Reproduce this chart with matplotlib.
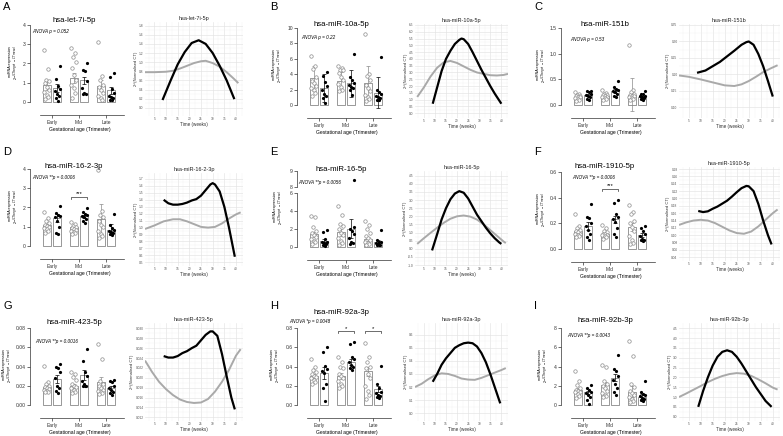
"""
miRNA expression by trimester (bar + dots) and modelled trajectory (line)
9 panels, A-I
"""

import numpy as np
import matplotlib
matplotlib.use('Agg')
import matplotlib.pyplot as plt

plt.rcParams['font.family'] = ['Liberation Sans', 'DejaVu Sans']

W, H = 783, 436
GROUPS = ['Early', 'Mid', 'Late']

# ============================================
# Data
# ============================================

# --- A: hsa-let-7i-5p ---
a_open = [[2.7, 1.7, 1.15, 1.07, 1.0, 0.8, 0.64, 0.5, 0.38, 0.26, 0.15],
          [2.83, 2.55, 2.33, 2.1, 1.76, 1.41, 1.16, 0.9, 0.72, 0.47, 0.2],
          [3.1, 1.33, 1.16, 0.9, 0.78, 0.64, 0.47, 0.33, 0.2, 0.12]]
a_fill = [[1.85, 1.2, 0.85, 0.67, 0.55, 0.41, 0.3, 0.19, 0.03],
          [2.0, 1.67, 1.59, 1.07, 0.72, 0.47, 0.43, 0.41],
          [1.53, 1.29, 0.67, 0.47, 0.29, 0.24, 0.19, 0.12, 0.09]]
a_bar_open, a_err_open = [0.86, 1.24, 0.84], [0.25, 0.25, 0.28]
a_bar_fill, a_err_fill = [0.72, 1.12, 0.6], [0.2, 0.2, 0.18]
a_bk_wk = [8.5, 12, 15, 18, 21, 24, 27, 30, 33, 36, 39.3]
a_bk = [0.17, 0.6, 0.95, 1.22, 1.42, 1.48, 1.4, 1.2, 0.92, 0.6, 0.19]
a_gr_wk = [1, 5, 10, 13, 16, 19, 22, 25, 27, 30, 33, 36, 39, 41]
a_gr = [0.78, 0.78, 0.79, 0.81, 0.86, 0.92, 0.98, 1.02, 1.03, 0.98, 0.9, 0.78, 0.64, 0.54]

# --- B: hsa-miR-10a-5p ---
b_open = [[6.3, 5.0, 4.7, 3.6, 3.1, 2.8, 2.5, 2.2, 1.9, 1.6, 1.2],
          [5.1, 4.8, 4.6, 4.5, 4.2, 3.6, 3.2, 2.7, 2.3, 2.0, 1.8],
          [9.2, 4.0, 3.8, 3.2, 2.6, 2.2, 1.8, 1.3, 1.0, 0.8, 0.5]]
b_fill = [[4.3, 3.8, 3.0, 2.5, 2.0, 1.4, 1.2, 0.9, 0.2],
          [6.6, 3.6, 3.3, 2.8, 2.6, 2.4, 2.2, 1.9, 1.3],
          [6.2, 1.9, 1.7, 1.4, 1.2, 1.0, 0.9, 0.7, 0.6]]
b_bar_open, b_err_open = [3.45, 3.15, 2.8], [1.6, 1.2, 2.2]
b_bar_fill, b_err_fill = [2.2, 2.8, 1.6], [1.8, 1.8, 2.0]
b_bk_wk = [9, 11, 13, 15, 17, 19, 21, 22, 23, 25, 27, 29, 31, 33, 35, 37, 39, 40]
b_bk = [0.7, 1.9, 3.1, 4.0, 4.6, 5.1, 5.4, 5.5, 5.45, 5.1, 4.5, 3.85, 3.2, 2.6, 2.0, 1.45, 0.95, 0.7]
b_gr_wk = [2, 5, 8, 11, 14, 17, 20, 23, 26, 29, 32, 35, 38, 41, 43]
b_gr = [1.2, 1.9, 2.7, 3.35, 3.75, 3.85, 3.7, 3.45, 3.2, 3.0, 2.9, 2.8, 2.78, 2.82, 2.9]

# --- C: hsa-miR-151b ---
c_open = [[0.26, 0.22, 0.2, 0.18, 0.17, 0.16, 0.15, 0.13, 0.12, 0.1, 0.08],
          [0.3, 0.24, 0.22, 0.2, 0.19, 0.18, 0.16, 0.15, 0.13, 0.12, 0.1],
          [1.17, 0.3, 0.26, 0.22, 0.2, 0.18, 0.17, 0.15, 0.13, 0.11, 0.09]]
c_fill = [[0.28, 0.27, 0.25, 0.22, 0.2, 0.18, 0.15, 0.12, 0.1],
          [0.47, 0.36, 0.32, 0.3, 0.28, 0.25, 0.22, 0.18, 0.15],
          [0.27, 0.22, 0.21, 0.18, 0.17, 0.15, 0.13, 0.12, 0.1]]
c_bar_open, c_err_open = [0.16, 0.17, 0.2], [0.02, 0.02, 0.32]
c_bar_fill, c_err_fill = [0.19, 0.27, 0.16], [0.02, 0.04, 0.02]
c_bk_wk = [8.5, 12, 15, 18, 21, 24, 27, 29, 30, 32, 34, 36, 38, 40]
c_bk = [0.205, 0.212, 0.225, 0.238, 0.255, 0.272, 0.29, 0.298, 0.3, 0.29, 0.262, 0.225, 0.18, 0.133]
c_gr_wk = [1, 5, 10, 15, 20, 24, 27, 30, 33, 36, 39, 42]
c_gr = [0.197, 0.193, 0.185, 0.176, 0.167, 0.165, 0.17, 0.18, 0.193, 0.207, 0.218, 0.228]

# --- D: hsa-miR-16-2-3p ---
d_open = [[1.75, 1.45, 1.3, 1.2, 1.1, 1.05, 1.0, 0.95, 0.9, 0.8, 0.65],
          [1.25, 1.15, 1.05, 1.0, 0.95, 0.9, 0.85, 0.8, 0.75, 0.7, 0.6],
          [3.95, 1.8, 1.6, 1.5, 1.3, 1.1, 1.0, 0.8, 0.6, 0.5, 0.4]]
d_fill = [[2.1, 1.7, 1.6, 1.55, 1.5, 1.3, 1.0, 0.7, 0.6],
          [1.95, 1.75, 1.65, 1.6, 1.55, 1.5, 1.4, 1.3, 1.2],
          [1.65, 1.1, 0.95, 0.85, 0.8, 0.75, 0.65, 0.6, 0.55]]
d_bar_open, d_err_open = [1.08, 0.98, 1.4], [0.08, 0.06, 0.8]
d_bar_fill, d_err_fill = [1.45, 1.55, 0.85], [0.2, 0.08, 0.3]
d_bk_wk = [9, 11, 13, 15, 17, 19, 21, 23, 25, 27, 29, 30, 31, 33, 35, 37, 39.5]
d_bk = [1.40, 1.35, 1.33, 1.33, 1.34, 1.36, 1.39, 1.41, 1.46, 1.54, 1.62, 1.64, 1.62, 1.52, 1.3, 1.0, 0.58]
d_gr_wk = [1, 5, 9, 13, 16, 19, 22, 25, 28, 31, 34, 37, 40, 42]
d_gr = [0.98, 1.03, 1.09, 1.12, 1.12, 1.09, 1.05, 1.01, 1.0, 1.01, 1.06, 1.13, 1.19, 1.22]

# --- E: hsa-miR-16-5p ---
e_open = [[3.4, 3.3, 2.2, 1.8, 1.5, 1.3, 1.1, 0.9, 0.7, 0.5, 0.3],
          [4.5, 3.5, 2.5, 2.3, 2.0, 1.6, 1.3, 1.0, 0.7, 0.4, 0.2],
          [2.9, 2.4, 2.0, 1.6, 1.2, 1.0, 0.8, 0.6, 0.4, 0.3, 0.2]]
e_fill = [[1.9, 1.7, 0.9, 0.6, 0.5, 0.4, 0.3, 0.2, 0.15],
          [8.4, 2.2, 2.0, 1.8, 1.4, 1.0, 0.6, 0.4, 0.3],
          [1.9, 0.8, 0.6, 0.5, 0.4, 0.3, 0.25, 0.2, 0.2]]
e_bar_open, e_err_open = [1.4, 1.65, 0.9], [0.3, 0.4, 0.25]
e_bar_fill, e_err_fill = [0.7, 2.05, 0.55], [0.2, 1.05, 0.2]
e_bk_wk = [8.7, 11, 13, 15, 17, 19, 21, 23, 25, 27, 29, 31, 33, 35, 37, 39, 40]
e_bk = [-0.1, 0.9, 1.8, 2.5, 3.05, 3.4, 3.55, 3.45, 3.1, 2.6, 2.1, 1.7, 1.3, 0.95, 0.65, 0.4, 0.3]
e_gr_wk = [2, 5, 8, 11, 14, 17, 20, 23, 26, 29, 32, 35, 38, 41, 42]
e_gr = [0.3, 0.65, 0.98, 1.3, 1.6, 1.85, 2.0, 2.05, 1.98, 1.8, 1.5, 1.15, 0.8, 0.45, 0.35]

# --- F: hsa-miR-1910-5p ---
f_open = [[0.27, 0.18, 0.16, 0.15, 0.14, 0.13, 0.12, 0.12, 0.11, 0.1, 0.09],
          [0.19, 0.16, 0.14, 0.13, 0.12, 0.12, 0.11, 0.11, 0.1, 0.09, 0.08],
          [0.34, 0.29, 0.27, 0.22, 0.2, 0.17, 0.14, 0.1, 0.07, 0.05, 0.04]]
f_fill = [[0.35, 0.25, 0.24, 0.2, 0.18, 0.15, 0.12, 0.09, 0.07],
          [0.38, 0.36, 0.27, 0.25, 0.23, 0.21, 0.16, 0.12, 0.09],
          [0.18, 0.16, 0.14, 0.12, 0.1, 0.08, 0.07, 0.07, 0.06]]
f_bar_open, f_err_open = [0.14, 0.12, 0.17], [0.015, 0.01, 0.03]
f_bar_fill, f_err_fill = [0.18, 0.23, 0.11], [0.03, 0.03, 0.015]
f_bk_wk = [9, 11, 13, 15, 17, 19, 21, 23, 25, 27, 29, 30, 32, 34, 36, 38, 39.5]
f_bk = [0.166, 0.163, 0.165, 0.172, 0.178, 0.186, 0.194, 0.205, 0.217, 0.228, 0.234, 0.233,
        0.22, 0.185, 0.14, 0.1, 0.075]
f_gr_wk = [1, 4, 7, 10, 13, 16, 19, 22, 25, 28, 31, 34, 37, 40, 42]
f_gr = [0.128, 0.135, 0.14, 0.142, 0.14, 0.133, 0.123, 0.113, 0.106, 0.104, 0.11, 0.124,
        0.142, 0.16, 0.17]

# --- G: hsa-miR-423-5p ---
g_open = [[0.041, 0.024, 0.022, 0.02, 0.019, 0.018, 0.017, 0.016, 0.015, 0.014, 0.013],
          [0.034, 0.032, 0.029, 0.026, 0.022, 0.02, 0.019, 0.018, 0.016, 0.014, 0.012],
          [0.063, 0.048, 0.025, 0.022, 0.02, 0.018, 0.016, 0.015, 0.013, 0.012, 0.011]]
g_fill = [[0.043, 0.04, 0.038, 0.034, 0.028, 0.02, 0.018, 0.015, 0.012],
          [0.058, 0.046, 0.034, 0.03, 0.025, 0.022, 0.02, 0.02, 0.02],
          [0.026, 0.025, 0.024, 0.02, 0.018, 0.016, 0.014, 0.012, 0.01]]
g_bar_open, g_err_open = [0.019, 0.02, 0.024], [0.002, 0.002, 0.005]
g_bar_fill, g_err_fill = [0.027, 0.031, 0.018], [0.004, 0.005, 0.002]
g_bk_wk = [9, 11, 13, 15, 17, 19, 21, 23, 25, 27, 29, 30, 32, 34, 36, 38, 39.5]
g_bk = [0.0244, 0.0241, 0.0241, 0.0244, 0.025, 0.0254, 0.026, 0.0265, 0.0276, 0.0287, 0.0294,
        0.0294, 0.0285, 0.0248, 0.0203, 0.016, 0.0136]
g_gr_wk = [1, 4, 7, 10, 13, 16, 19, 22, 25, 28, 31, 34, 37, 40, 42]
g_gr = [0.0235, 0.0212, 0.0192, 0.0177, 0.0165, 0.0156, 0.0151, 0.0149, 0.015, 0.0157,
        0.0172, 0.0192, 0.0216, 0.0245, 0.0258]

# --- H: hsa-miR-92a-3p ---
h_open = [[0.48, 0.4, 0.36, 0.34, 0.32, 0.3, 0.29, 0.28, 0.26, 0.24, 0.22],
          [0.5, 0.45, 0.4, 0.38, 0.32, 0.3, 0.28, 0.25, 0.22, 0.2, 0.18],
          [0.64, 0.5, 0.45, 0.4, 0.38, 0.32, 0.28, 0.2, 0.15, 0.1, 0.06]]
h_fill = [[0.6, 0.55, 0.41, 0.37, 0.35, 0.33, 0.22, 0.18, 0.04],
          [0.65, 0.63, 0.5, 0.48, 0.45, 0.42, 0.4, 0.38, 0.36],
          [0.41, 0.22, 0.18, 0.14, 0.12, 0.1, 0.09, 0.08, 0.07]]
h_bar_open, h_err_open = [0.3, 0.3, 0.35], [0.02, 0.03, 0.05]
h_bar_fill, h_err_fill = [0.33, 0.45, 0.17], [0.06, 0.03, 0.03]
h_bk_wk = [9, 11, 13, 15, 17, 19, 21, 23, 25, 27, 29, 31, 33, 35, 37, 39.5]
h_bk = [0.24, 0.3, 0.37, 0.42, 0.46, 0.5, 0.52, 0.535, 0.54, 0.535, 0.51, 0.46, 0.39, 0.3, 0.2, 0.075]
h_gr_wk = [1, 4, 7, 10, 13, 16, 19, 22, 25, 28, 31, 34, 37, 40, 42]
h_gr = [0.2, 0.225, 0.26, 0.29, 0.305, 0.3, 0.285, 0.265, 0.257, 0.255, 0.27, 0.29, 0.31, 0.33, 0.345]

# --- I: hsa-miR-92b-3p ---
i_open = [[3.5, 2.5, 2.1, 1.8, 1.6, 1.5, 1.4, 1.3, 1.1, 0.9, 0.7],
          [4.2, 4.0, 2.5, 2.2, 2.0, 1.8, 1.5, 1.2, 1.0, 0.9, 0.8],
          [6.6, 5.1, 2.2, 1.9, 1.5, 1.2, 1.0, 0.8, 0.6, 0.4, 0.3]]
i_fill = [[2.1, 1.8, 1.6, 1.4, 1.2, 1.0, 0.8, 0.5, 0.1],
          [5.2, 3.7, 3.5, 3.0, 2.6, 2.2, 1.8, 1.3, 1.0],
          [2.5, 1.4, 1.1, 1.0, 0.9, 0.7, 0.6, 0.5, 0.4]]
i_bar_open, i_err_open = [1.6, 2.1, 1.4], [0.2, 0.3, 0.6]
i_bar_fill, i_err_fill = [1.3, 2.85, 0.85], [0.2, 0.4, 0.25]
i_bk_wk = [9, 11, 13, 15, 17, 19, 21, 23, 25, 27, 29, 31, 33, 35, 37, 39.5]
i_bk = [0.5, 1.3, 2.0, 2.6, 3.05, 3.3, 3.38, 3.3, 3.05, 2.7, 2.3, 1.9, 1.5, 1.15, 0.8, 0.5]
i_gr_wk = [1, 4, 7, 10, 13, 16, 19, 22, 25, 28, 31, 34, 37, 40, 42]
i_gr = [1.0, 1.18, 1.37, 1.56, 1.76, 1.93, 2.07, 2.17, 2.22, 2.19, 2.08, 1.9, 1.7, 1.48, 1.38]

names = ['hsa-let-7i-5p', 'hsa-miR-10a-5p', 'hsa-miR-151b',
         'hsa-miR-16-2-3p', 'hsa-miR-16-5p', 'hsa-miR-1910-5p',
         'hsa-miR-423-5p', 'hsa-miR-92a-3p', 'hsa-miR-92b-3p']
anova = ['ANOVA p = 0.052', 'ANOVA p = 0.22', 'ANOVA p = 0.53',
         'ANOVA **p = 0.0006', 'ANOVA **p = 0.0056', 'ANOVA **p = 0.0006',
         'ANOVA **p = 0.0016', 'ANOVA *p = 0.0048', 'ANOVA **p = 0.0043']

# ============================================
# Layout (pixel positions in the 783x436 canvas)
# ============================================
COL_X = [0, 267, 531]
ROW_Y = [0, 144, 303]
LETTER_Y = [7, 8, 3]
LINE_X = [(145, 243), (148, 241), (148, 249)]

# per panel: bar dy, bar yticks, title y, anova (x, y), y-label x, line (top, bottom), line ylim, line ticks
LAYOUT = {
    'A': dict(dy=0, yt=[0, 1, 2, 3, 4], yl=['0', '1', '2', '3', '4'], ty=20, an=(32, 32), lx=10,
              ly=(22, 116), lim=(-0.18, 1.88), lt=(0.0, 1.8, 0.2), fmt='%.1f'),
    'B': dict(dy=3, yt=[0, 2, 4, 6, 8, 10], yl=['0', '2', '4', '6', '8', '10'], ty=25, an=(34, 37),
              lx=7, ly=(24, 118), lim=(-0.35, 6.57), lt=(0.0, 6.5, 0.5), fmt='%.1f'),
    'C': dict(dy=3, yt=[0, 0.5, 1.0, 1.5], yl=['0.0', '0.5', '1.0', '1.5'], ty=25, an=(39, 40),
              lx=7, ly=(24, 118), lim=(0.068, 0.353), lt=(0.10, 0.35, 0.05), fmt='%.2f'),
    'D': dict(dy=0, yt=[0, 1, 2, 3, 4], yl=['0', '1', '2', '3', '4'], ty=22, an=(32, 33), lx=10,
              ly=(29, 122), lim=(0.447, 1.786), lt=(0.5, 1.7, 0.1), fmt='%.1f'),
    'E': dict(dy=1, yt=[0, 2, 4, 6], yl=['0', '2', '4', '6'], ty=25, an=(31, 38), lx=8,
              ly=(27, 122), lim=(-1.06, 4.79), lt=(-1.0, 4.5, 0.5), fmt='%.1f'),
    'F': dict(dy=3, yt=[0, 0.2, 0.4, 0.6], yl=['0.0', '0.2', '0.4', '0.6'], ty=22, an=(41, 34),
              lx=7, ly=(23, 117), lim=(0.030, 0.2855), lt=(0.04, 0.28, 0.02), fmt='%.2f'),
    'G': dict(dy=0, yt=[0, 0.02, 0.04, 0.06, 0.08], yl=['0.00', '0.02', '0.04', '0.06', '0.08'],
              ty=19, an=(35, 38), lx=4, ly=(20, 118), lim=(0.01125, 0.0311),
              lt=(0.012, 0.030, 0.002), fmt='%.3f'),
    'H': dict(dy=0, yt=[0, 0.2, 0.4, 0.6, 0.8], yl=['0.0', '0.2', '0.4', '0.6', '0.8'], ty=9,
              an=(22, 18), lx=5, ly=(20, 118), lim=(-0.06, 0.69), lt=(0.0, 0.6, 0.1), fmt='%.1f'),
    'I': dict(dy=0, yt=[0, 2, 4, 6, 8], yl=['0', '2', '4', '6', '8'], ty=17, an=(36, 32), lx=9,
              ly=(20, 118), lim=(-0.22, 4.77), lt=(0.0, 4.5, 0.5), fmt='%.1f'),
}

# significance brackets: (group, y, label)
BRACKETS = {'D': [(1, 2.55, '***')], 'F': [(1, 0.467, '***')],
            'H': [(1, 0.765, '*'), (2, 0.765, '*')]}

JIT = [-0.08, 0.05, -0.03, 0.09, -0.06, 0.02, 0.08, -0.1, 0.0, 0.06, -0.05, 0.03]

fig = plt.figure(figsize=(W / 100, H / 100), dpi=100)


def px_ax(x0, y0, x1, y1):
    return fig.add_axes([x0 / W, 1 - y1 / H, (x1 - x0) / W, (y1 - y0) / H])


def ftext(x, y, s, **kw):
    fig.text(x / W, 1 - y / H, s, **kw)


def draw_dots(ax, opn, fil, bo, eo, bf, ef):
    for g in range(3):
        xo, xf = g - 0.2, g + 0.2
        ax.bar(xo, bo[g], width=0.3, color='white', edgecolor='#707070', lw=0.5, zorder=1)
        ax.bar(xf, bf[g], width=0.3, color='white', edgecolor='#707070', lw=0.5, zorder=1)
        ax.errorbar(xo, bo[g], yerr=eo[g], color='#8a8a8a', lw=0.5, capsize=1.3,
                    capthick=0.5, zorder=2)
        ax.errorbar(xf, bf[g], yerr=ef[g], color='black', lw=0.5, capsize=1.3,
                    capthick=0.5, zorder=2)
        xs = [xo + JIT[k % len(JIT)] for k in range(len(opn[g]))]
        ax.plot(xs, opn[g], 'o', ms=2.5, mfc='white', mec='#8c8c8c', mew=0.5,
                zorder=3, clip_on=False)
        xs = [xf + JIT[(k + 3) % len(JIT)] for k in range(len(fil[g]))]
        ax.plot(xs, fil[g], 'o', ms=2.3, color='black', mew=0, zorder=3, clip_on=False)


def style_bar_ax(ax):
    ax.patch.set_alpha(0)
    for sp in ['top', 'right']:
        ax.spines[sp].set_visible(False)
    for sp in ['left', 'bottom']:
        ax.spines[sp].set_linewidth(0.5)
        ax.spines[sp].set_color('#333333')
    ax.tick_params(axis='y', length=2, width=0.5, labelsize=3.6, pad=1, colors='#333333')
    ax.tick_params(axis='x', length=2, width=0.5, labelsize=3.5, pad=1.5, colors='#333333')
    ax.set_xlim(-22 / 27, 73 / 27)


def bar_panel(letter, idx, opn, fil, bo, eo, bf, ef):
    L = LAYOUT[letter]
    ox, oy = COL_X[idx % 3], ROW_Y[idx // 3]
    dy = L['dy']
    ymax = L['yt'][-1]

    if letter == 'E':
        # broken axis: 0-6 below, 8-9 above
        s = (102 - 48) / 6.0
        ax = px_ax(ox + 30, oy + dy + 46, ox + 125, oy + dy + 115)
        ax.set_ylim(-13 / s, 6 + 2 / s)
        ax.spines['left'].set_bounds(0, 6)
        up = px_ax(ox + 30, oy + dy + 22, ox + 125, oy + dy + 43)
        su = (41.7 - 25.7) / 1.0
        up.set_ylim(8 - 1.3 / su, 9 + 3.7 / su)
        style_bar_ax(up)
        up.spines['bottom'].set_visible(False)
        up.spines['left'].set_bounds(8, 9)
        up.set_yticks([8, 9])
        up.set_yticklabels(['8', '9'])
        up.set_xticks([])
        up.plot([1 + 0.2 + JIT[3]], [max(fil[1])], 'o', ms=2.3, color='black', mew=0)
        fil = [fil[0], [v for v in fil[1] if v < 6], fil[2]]
    else:
        s = 77.0 / ymax
        ax = px_ax(ox + 30, oy + dy + 8, ox + 125, oy + dy + 115)
        ax.set_ylim(-13 / s, ymax + 17 / s)
        ax.spines['left'].set_bounds(0, ymax)

    style_bar_ax(ax)
    ax.spines['bottom'].set_bounds(-0.45, 2.65)
    ax.set_yticks(L['yt'])
    ax.set_yticklabels(L['yl'])
    ax.set_xticks([0, 1, 2])
    ax.set_xticklabels(GROUPS)
    draw_dots(ax, opn, fil, bo, eo, bf, ef)

    for g, yb, lab in BRACKETS.get(letter, []):
        tk = 0.025 * ymax
        ax.plot([g - 0.28, g - 0.28, g + 0.28, g + 0.28], [yb - tk, yb, yb, yb - tk],
                color='#333333', lw=0.5)
        ax.text(g, yb + 0.01 * ymax, lab, ha='center', va='bottom', fontsize=4.2)

    ftext(ox + 74, oy + L['ty'], names[idx], ha='center', va='center', fontsize=5.6)
    ftext(ox + L['an'][0], oy + L['an'][1], anova[idx], ha='left', va='center',
          fontsize=3.3, style='italic')
    lx = L['lx']
    ftext(ox + lx, oy + dy + 62, 'miRNA expression', rotation=90, ha='center',
          va='center', fontsize=2.7)
    ftext(ox + lx + 6, oy + dy + 62, r'2$^{-(CTtarget\ -\ CTmean)}$', rotation=90,
          ha='center', va='center', fontsize=2.7)
    ftext(ox + 80, oy + dy + 129.5, 'Gestational age (Trimester)', ha='center',
          va='center', fontsize=3.6)


def line_panel(letter, idx, bk_wk, bk, gr_wk, gr):
    L = LAYOUT[letter]
    ox, oy = COL_X[idx % 3], ROW_Y[idx // 3]
    x0, x1 = LINE_X[idx % 3]
    t, b = L['ly']
    ax = px_ax(ox + x0, oy + t, ox + x1, oy + b)
    ax.plot(gr_wk, gr, color='#a9a9a9', lw=1.4, solid_capstyle='butt', zorder=3)
    ax.plot(bk_wk, bk, color='black', lw=1.6, solid_capstyle='butt', zorder=4)
    ax.set_xlim(1, 43)
    ax.set_ylim(*L['lim'])
    lo, hi, st = L['lt']
    yt = np.arange(lo, hi + st / 2, st)
    ax.set_xticks(range(5, 45, 5))
    ax.set_xticks(np.arange(2.5, 43, 5), minor=True)
    ax.set_yticks(yt)
    ax.set_yticklabels([L['fmt'] % v for v in yt])
    ax.set_yticks(yt[:-1] + st / 2, minor=True)
    ax.grid(which='major', color='#e3e3e3', lw=0.45)
    ax.grid(which='minor', color='#f1f1f1', lw=0.3)
    ax.set_axisbelow(True)
    for sp in ax.spines.values():
        sp.set_visible(False)
    ax.tick_params(which='both', length=0, labelsize=2.3, colors='#555555', pad=1)
    ax.set_title(names[idx], fontsize=4.0, pad=1.5, color='#222222')
    ax.set_xlabel('Time (weeks)', fontsize=3.3, labelpad=0.2, color='#333333')
    ax.set_ylabel('2^(Normalised CT)', fontsize=3.0, labelpad=1, color='#333333')


# ============================================
# Draw
# ============================================
panels = [
    ('A', a_open, a_fill, a_bar_open, a_err_open, a_bar_fill, a_err_fill, a_bk_wk, a_bk, a_gr_wk, a_gr),
    ('B', b_open, b_fill, b_bar_open, b_err_open, b_bar_fill, b_err_fill, b_bk_wk, b_bk, b_gr_wk, b_gr),
    ('C', c_open, c_fill, c_bar_open, c_err_open, c_bar_fill, c_err_fill, c_bk_wk, c_bk, c_gr_wk, c_gr),
    ('D', d_open, d_fill, d_bar_open, d_err_open, d_bar_fill, d_err_fill, d_bk_wk, d_bk, d_gr_wk, d_gr),
    ('E', e_open, e_fill, e_bar_open, e_err_open, e_bar_fill, e_err_fill, e_bk_wk, e_bk, e_gr_wk, e_gr),
    ('F', f_open, f_fill, f_bar_open, f_err_open, f_bar_fill, f_err_fill, f_bk_wk, f_bk, f_gr_wk, f_gr),
    ('G', g_open, g_fill, g_bar_open, g_err_open, g_bar_fill, g_err_fill, g_bk_wk, g_bk, g_gr_wk, g_gr),
    ('H', h_open, h_fill, h_bar_open, h_err_open, h_bar_fill, h_err_fill, h_bk_wk, h_bk, h_gr_wk, h_gr),
    ('I', i_open, i_fill, i_bar_open, i_err_open, i_bar_fill, i_err_fill, i_bk_wk, i_bk, i_gr_wk, i_gr),
]

for idx, p in enumerate(panels):
    letter = p[0]
    bar_panel(letter, idx, *p[1:7])
    line_panel(letter, idx, *p[7:11])
    ox, oy = COL_X[idx % 3], ROW_Y[idx // 3]
    ftext(ox + 3, oy + LETTER_Y[idx // 3], letter, ha='left', va='center', fontsize=8)

fig.savefig('out.png', dpi=100)
